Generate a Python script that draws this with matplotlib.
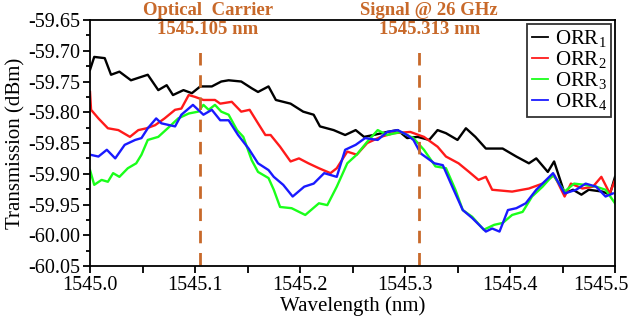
import matplotlib
matplotlib.use("Agg")
import matplotlib.pyplot as plt
import matplotlib.transforms as mtransforms
from matplotlib.ticker import MultipleLocator, FormatStrFormatter

plt.rcParams['font.family'] = ['Liberation Serif', 'DejaVu Serif']
plt.rcParams['mathtext.fontset'] = 'custom'
plt.rcParams['mathtext.rm'] = 'Liberation Serif'
plt.rcParams['mathtext.it'] = 'Liberation Serif:italic'

# wavelength offsets from 1545 nm and measured transmission (dBm)
wl_1 = [0.000, 0.004, 0.014, 0.020, 0.028, 0.039, 0.055, 0.065, 0.073, 0.079,
        0.089, 0.097, 0.105, 0.116, 0.125, 0.132, 0.144, 0.154, 0.160, 0.170,
        0.177, 0.191, 0.203, 0.213, 0.219, 0.232, 0.243, 0.253, 0.261, 0.270,
        0.283, 0.293, 0.302, 0.312, 0.323, 0.331, 0.339, 0.350, 0.358, 0.367,
        0.377, 0.393, 0.406, 0.418, 0.425, 0.436, 0.442, 0.452, 0.460, 0.468,
        0.475, 0.488, 0.495, 0.500]
orr_1 = [-59.731, -59.710, -59.712, -59.739, -59.734, -59.748, -59.739, -59.764, -59.756, -59.772,
         -59.764, -59.769, -59.758, -59.758, -59.750, -59.748, -59.750, -59.761, -59.767, -59.758,
         -59.780, -59.786, -59.799, -59.804, -59.823, -59.829, -59.837, -59.829, -59.840, -59.837,
         -59.832, -59.829, -59.842, -59.840, -59.845, -59.829, -59.834, -59.845, -59.826, -59.840,
         -59.859, -59.859, -59.872, -59.883, -59.875, -59.897, -59.880, -59.932, -59.926, -59.934,
         -59.926, -59.929, -59.934, -59.905]

wl_2 = [0.000, 0.001, 0.008, 0.017, 0.027, 0.038, 0.046, 0.054, 0.062, 0.071,
        0.081, 0.087, 0.094, 0.100, 0.108, 0.119, 0.124, 0.135, 0.144, 0.152,
        0.160, 0.167, 0.172, 0.181, 0.191, 0.199, 0.208, 0.218, 0.229, 0.235,
        0.245, 0.254, 0.264, 0.277, 0.289, 0.305, 0.318, 0.331, 0.339, 0.351,
        0.361, 0.370, 0.377, 0.383, 0.402, 0.418, 0.431, 0.442, 0.452, 0.458,
        0.469, 0.479, 0.487, 0.495, 0.500]
orr_2 = [-59.767, -59.796, -59.810, -59.826, -59.829, -59.840, -59.829, -59.826, -59.821, -59.810,
         -59.796, -59.794, -59.772, -59.775, -59.780, -59.780, -59.786, -59.783, -59.799, -59.796,
         -59.818, -59.837, -59.837, -59.856, -59.880, -59.875, -59.883, -59.891, -59.899, -59.891,
         -59.864, -59.869, -59.850, -59.840, -59.834, -59.832, -59.840, -59.856, -59.872, -59.883,
         -59.897, -59.910, -59.905, -59.926, -59.929, -59.924, -59.916, -59.902, -59.937, -59.916,
         -59.924, -59.921, -59.905, -59.932, -59.910]

wl_3 = [0.000, 0.004, 0.011, 0.017, 0.022, 0.028, 0.036, 0.044, 0.049, 0.055,
        0.065, 0.074, 0.084, 0.094, 0.103, 0.108, 0.113, 0.119, 0.125, 0.132,
        0.140, 0.146, 0.154, 0.160, 0.170, 0.175, 0.181, 0.192, 0.205, 0.218,
        0.226, 0.235, 0.245, 0.254, 0.264, 0.274, 0.283, 0.296, 0.308, 0.318,
        0.329, 0.339, 0.348, 0.355, 0.364, 0.375, 0.385, 0.393, 0.402, 0.412,
        0.421, 0.431, 0.441, 0.452, 0.461, 0.471, 0.482, 0.491, 0.500]
orr_3 = [-59.894, -59.918, -59.910, -59.913, -59.899, -59.905, -59.891, -59.883, -59.869, -59.845,
         -59.840, -59.826, -59.810, -59.802, -59.799, -59.788, -59.796, -59.788, -59.799, -59.804,
         -59.829, -59.840, -59.878, -59.897, -59.907, -59.926, -59.954, -59.956, -59.967, -59.948,
         -59.951, -59.921, -59.883, -59.869, -59.848, -59.829, -59.837, -59.832, -59.842, -59.861,
         -59.888, -59.891, -59.926, -59.959, -59.970, -59.991, -59.983, -59.980, -59.967, -59.962,
         -59.937, -59.921, -59.902, -59.929, -59.916, -59.918, -59.921, -59.926, -59.948]

wl_4 = [0.000, 0.008, 0.016, 0.024, 0.033, 0.043, 0.049, 0.055, 0.063, 0.068,
        0.081, 0.087, 0.098, 0.108, 0.116, 0.124, 0.132, 0.141, 0.151, 0.160,
        0.170, 0.175, 0.184, 0.193, 0.204, 0.213, 0.223, 0.235, 0.243, 0.253,
        0.262, 0.274, 0.283, 0.293, 0.302, 0.308, 0.315, 0.328, 0.336, 0.345,
        0.355, 0.364, 0.377, 0.383, 0.390, 0.398, 0.406, 0.415, 0.425, 0.441,
        0.452, 0.463, 0.472, 0.482, 0.491, 0.498]
orr_4 = [-59.869, -59.872, -59.861, -59.875, -59.853, -59.845, -59.842, -59.826, -59.810, -59.818,
         -59.823, -59.804, -59.788, -59.804, -59.796, -59.813, -59.813, -59.837, -59.859, -59.883,
         -59.894, -59.905, -59.918, -59.937, -59.921, -59.916, -59.899, -59.905, -59.861, -59.853,
         -59.842, -59.845, -59.832, -59.829, -59.837, -59.845, -59.867, -59.883, -59.886, -59.921,
         -59.959, -59.972, -59.994, -59.989, -59.994, -59.959, -59.956, -59.948, -59.926, -59.899,
         -59.932, -59.926, -59.916, -59.921, -59.937, -59.932]

series = [(wl_1, orr_1, 'black', r'ORR$_1$'),
          (wl_2, orr_2, '#ff1a1a', r'ORR$_2$'),
          (wl_3, orr_3, '#1aff1a', r'ORR$_3$'),
          (wl_4, orr_4, '#1a1aff', r'ORR$_4$')]

carrier_wl = 1545.105
signal_wl = 1545.313
mark_color = '#c8692a'

fig = plt.figure(figsize=(6.3, 3.27), dpi=100)
ax = fig.add_axes([0.1429, 0.1865, 0.8333, 0.7523])

for wl, vals, col, lab in series:
    ax.plot([1545 + w for w in wl], vals, color=col, lw=1.7, label=lab)

for xv in (carrier_wl, signal_wl):
    ax.plot([xv, xv], [-60.048, -59.69], color=mark_color, lw=2,
            dashes=(4.5, 3.5))

ax.set_xlim(1545.0, 1545.5)
ax.set_ylim(-60.05, -59.65)
ax.xaxis.set_major_locator(MultipleLocator(0.1))
ax.xaxis.set_minor_locator(MultipleLocator(0.05))
ax.yaxis.set_major_locator(MultipleLocator(0.05))
ax.yaxis.set_minor_locator(MultipleLocator(0.025))
ax.xaxis.set_major_formatter(FormatStrFormatter('%.1f'))
ax.yaxis.set_major_formatter(FormatStrFormatter('%.2f'))
ax.tick_params(which='both', direction='out', top=False, right=False,
               labelsize=14.5, width=1.3, pad=2)
ax.tick_params(which='major', length=5)
ax.tick_params(axis='x', which='minor', length=5)
ax.tick_params(axis='y', which='minor', length=3)
for s in ax.spines.values():
    s.set_linewidth(1.3)

ax.set_xlabel('Wavelength (nm)', fontsize=15, labelpad=1)
ax.set_ylabel('Transmission (dBm)', fontsize=15, labelpad=2)

# nudge the 1545.5 label left so it stays inside the figure
fig.canvas.draw()
shift = mtransforms.ScaledTranslation(-0.14, 0, fig.dpi_scale_trans)
for tick in ax.xaxis.get_major_ticks():
    if abs(tick.get_loc() - 1545.5) < 1e-6:
        tick.label1.set_transform(tick.label1.get_transform() + shift)

# marker labels sit across the top edge of the frame
trans = ax.get_xaxis_transform()
ax.text(1545.112, 1.075, 'Optical  Carrier\n1545.105 nm', color=mark_color,
        fontsize=13.5, fontweight='bold', ha='center', va='top',
        linespacing=1.15, transform=trans, clip_on=False)
ax.text(1545.323, 1.075, 'Signal @ 26 GHz\n1545.313 nm', color=mark_color,
        fontsize=13.5, fontweight='bold', ha='center', va='top',
        linespacing=1.15, transform=trans, clip_on=False)

leg = ax.legend(loc='upper right', fontsize=15, handlelength=0.8,
                handletextpad=0.3, labelspacing=0.0, borderpad=0.2,
                borderaxespad=0.2, fancybox=False, frameon=True)
leg.get_frame().set_edgecolor('black')
leg.get_frame().set_linewidth(1.3)
for line in leg.get_lines():
    line.set_linewidth(1.3)

fig.savefig('out.png', dpi=100)
